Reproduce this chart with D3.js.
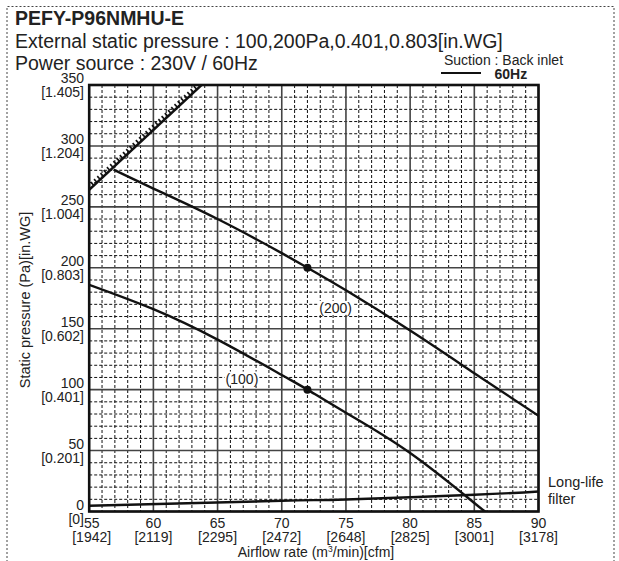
<!DOCTYPE html>
<html><head><meta charset="utf-8">
<script src="https://cdn.jsdelivr.net/npm/d3@7"></script>
<style>
html,body{margin:0;padding:0;background:#fff;}
svg text{font-family:"Liberation Sans",Arial,Helvetica,sans-serif;fill:#222;}
</style></head>
<body><svg id="c" width="619" height="561"></svg>
<script>
// ---- data ----
const xTicks = [55, 60, 65, 70, 75, 80, 85, 90];
const xTickCfm = ["[1942]", "[2119]", "[2295]", "[2472]", "[2648]", "[2825]", "[3001]", "[3178]"];
const yTicks = [0, 50, 100, 150, 200, 250, 300, 350];
const yTickInWG = ["[0]", "[0.201]", "[0.401]", "[0.602]", "[0.803]", "[1.004]", "[1.204]", "[1.405]"];
const limitLine = [[55, 264], [63.75, 350]];
const curve200 = [[56.9, 280.5], [60, 265], [65, 240], [70, 212], [72, 200], [75, 181.5], [80, 148.5], [85, 113.5], [90, 78.5]];
const curve100 = [[55, 186], [60, 166], [65, 141], [70, 112], [72, 100], [75, 81], [80, 48], [85, 7], [85.85, 0]];
const filterLine = [[55, 4.7], [70, 8.8], [75, 9.9], [85, 13.7], [90, 16.4]];
const ratedPoints = [[72, 200], [72, 100]];
const curveLabels = [{t: "(200)", x: 74.2, y: 163}, {t: "(100)", x: 66.9, y: 105}];

// ---- layout ----
const svg = d3.select("#c");
const L = 89.2, R = 538.5, T = 85, B = 511.5;
const x = d3.scaleLinear().domain([55, 90]).range([L, R]);
const y = d3.scaleLinear().domain([0, 350]).range([B, T]);

// outer dotted border
svg.append("path").attr("d", `M7,570 V6.5 H614 V570`)
  .attr("fill", "none").attr("stroke", "#444").attr("stroke-width", 1).attr("stroke-dasharray", "2,2");

// titles
svg.append("text").attr("x", 15).attr("y", 25).attr("font-size", 19.5).attr("font-weight", "bold").text("PEFY-P96NMHU-E");
svg.append("text").attr("x", 15).attr("y", 47.5).attr("font-size", 19.5).text("External static pressure : 100,200Pa,0.401,0.803[in.WG]");
svg.append("text").attr("x", 15).attr("y", 70).attr("font-size", 19.5).text("Power source : 230V / 60Hz");

// legend
svg.append("text").attr("x", 503.5).attr("y", 65).attr("font-size", 14).attr("text-anchor", "middle").text("Suction : Back inlet");
svg.append("line").attr("x1", 441).attr("x2", 481).attr("y1", 73).attr("y2", 73).attr("stroke", "#111").attr("stroke-width", 2.2);
svg.append("text").attr("x", 494.5).attr("y", 78.5).attr("font-size", 14).attr("font-weight", "bold").text("60Hz");

// grid
const g = svg.append("g");
const minorX = d3.range(55, 91, 1).filter(v => v % 5 !== 0);
const minorY = d3.range(0, 351, 10).filter(v => v % 50 !== 0);
g.selectAll(".mx").data(minorX).join("line")
  .attr("x1", d => x(d)).attr("x2", d => x(d)).attr("y1", T).attr("y2", B)
  .attr("stroke", "#111").attr("stroke-width", 1).attr("stroke-dasharray", "3,2");
g.selectAll(".my").data(minorY).join("line")
  .attr("x1", L).attr("x2", R).attr("y1", d => y(d)).attr("y2", d => y(d))
  .attr("stroke", "#111").attr("stroke-width", 1).attr("stroke-dasharray", "3,2");
g.selectAll(".Mx").data(xTicks).join("line")
  .attr("x1", d => x(d)).attr("x2", d => x(d)).attr("y1", T).attr("y2", B)
  .attr("stroke", "#444").attr("stroke-width", 1.6);
g.selectAll(".My").data(yTicks).join("line")
  .attr("x1", L).attr("x2", R).attr("y1", d => y(d)).attr("y2", d => y(d))
  .attr("stroke", "#444").attr("stroke-width", 1.6);

// clip
svg.append("clipPath").attr("id", "clip").append("rect").attr("x", L).attr("y", T).attr("width", R - L).attr("height", B - T);
const plot = svg.append("g").attr("clip-path", "url(#clip)");

// curve labels on white background
curveLabels.forEach(d => {
  const t = svg.append("text").attr("x", x(d.x)).attr("y", y(d.y)).attr("font-size", 14).attr("text-anchor", "middle").text(d.t);
  const bb = t.node().getBBox();
  svg.insert("rect", "text:last-of-type").attr("x", bb.x - 1).attr("y", bb.y + 1).attr("width", bb.width + 2).attr("height", bb.height - 2).attr("fill", "#fff");
  t.raise();
});

const line = d3.line().x(d => x(d[0])).y(d => y(d[1])).curve(d3.curveNatural);
[curve200, curve100, filterLine].forEach(c => {
  plot.append("path").attr("d", line(c)).attr("fill", "none").attr("stroke", "#111").attr("stroke-width", 2.4);
});
// limit line with hatch ticks
plot.append("path").attr("d", d3.line().x(d => x(d[0])).y(d => y(d[1]))(limitLine))
  .attr("fill", "none").attr("stroke", "#111").attr("stroke-width", 2.4);
const p0 = [x(limitLine[0][0]), y(limitLine[0][1])], p1 = [x(limitLine[1][0]), y(limitLine[1][1])];
const len = Math.hypot(p1[0] - p0[0], p1[1] - p0[1]);
const ux = (p1[0] - p0[0]) / len, uy = (p1[1] - p0[1]) / len;
const nx = uy, ny = -ux; // normal pointing up-left
const hatch = d3.range(2, len, 4.4);
plot.selectAll(".h").data(hatch).join("line")
  .attr("x1", s => p0[0] + ux * s).attr("y1", s => p0[1] + uy * s)
  .attr("x2", s => p0[0] + ux * s + nx * 4.5).attr("y2", s => p0[1] + uy * s + ny * 4.5)
  .attr("stroke", "#111").attr("stroke-width", 1.6);

svg.selectAll(".pt").data(ratedPoints).join("circle")
  .attr("cx", d => x(d[0])).attr("cy", d => y(d[1])).attr("r", 4).attr("fill", "#111");

// frame
svg.append("rect").attr("x", L).attr("y", T).attr("width", R - L).attr("height", B - T)
  .attr("fill", "none").attr("stroke", "#111").attr("stroke-width", 2.6);

// axis tick labels
const tfs = 14;
svg.selectAll(".xt").data(xTicks).join("text")
  .attr("x", (d, i) => x(d) + (i === 0 ? 2.5 : 0)).attr("y", 527.5).attr("font-size", tfs).attr("text-anchor", "middle").text(d => d);
svg.selectAll(".xc").data(xTicks).join("text")
  .attr("x", (d, i) => x(d) + (i === 0 ? 2.5 : 0)).attr("y", 541.5).attr("font-size", tfs).attr("text-anchor", "middle").text((d, i) => xTickCfm[i]);
svg.selectAll(".yt").data(yTicks).join("text")
  .attr("x", 84).attr("y", d => y(d) - 2).attr("font-size", tfs).attr("text-anchor", "end").text(d => d);
svg.selectAll(".yc").data(yTicks).join("text")
  .attr("x", 84).attr("y", d => y(d) + 12).attr("font-size", tfs).attr("text-anchor", "end").text((d, i) => yTickInWG[i]);

// axis titles
const xt = svg.append("text").attr("x", 316).attr("y", 557).attr("font-size", 14).attr("text-anchor", "middle");
xt.append("tspan").text("Airflow rate (m");
xt.append("tspan").attr("font-size", 8.5).attr("dy", -5).text("3");
xt.append("tspan").attr("dy", 5).text("/min)[cfm]");
svg.append("text").attr("transform", "translate(30,300) rotate(-90)").attr("font-size", 14.5).attr("text-anchor", "middle").text("Static pressure (Pa)[in.WG]");

// filter label
svg.append("text").attr("x", 548).attr("y", 487).attr("font-size", 14.5).text("Long-life");
svg.append("text").attr("x", 548).attr("y", 503.5).attr("font-size", 14.5).text("filter");
</script></body></html>
